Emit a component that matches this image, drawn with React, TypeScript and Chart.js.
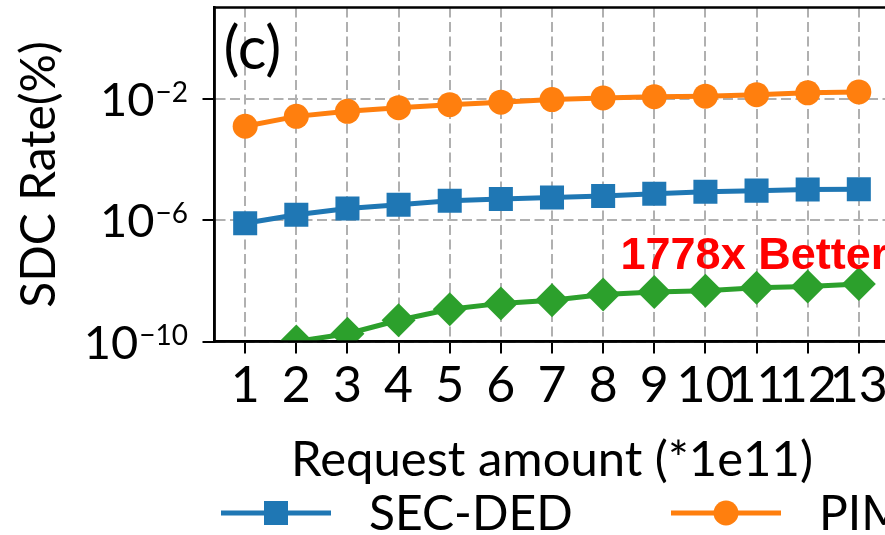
import { useEffect, useRef } from 'react';
import { Chart, registerables } from 'chart.js';

Chart.register(...registerables);

// ---- data ----
const requestAmounts = [1, 2, 3, 4, 5, 6, 7, 8, 9, 10, 11, 12, 13];
const secDedRate = [7.8e-7, 1.5e-6, 2.4e-6, 3.2e-6, 4.3e-6, 4.9e-6, 5.5e-6, 6.2e-6, 7.4e-6, 8.5e-6, 9.3e-6, 1.02e-5, 1.03e-5];
const pimRate = [1.23e-3, 2.6e-3, 3.8e-3, 5.0e-3, 6.3e-3, 7.6e-3, 9.3e-3, 1.05e-2, 1.15e-2, 1.2e-2, 1.35e-2, 1.55e-2, 1.66e-2];
const proposedRate = [3e-11, 1.0e-10, 1.8e-10, 5.0e-10, 1.15e-9, 1.8e-9, 2.3e-9, 3.5e-9, 4.3e-9, 4.7e-9, 5.9e-9, 6.5e-9, 7.8e-9];
const yTickValues = [1e-10, 1e-6, 1e-2];
const seriesLabels = ['SEC-DED', 'PIM', 'Proposed'];
const seriesColors = ['#1f77b4', '#ff7f0e', '#2ca02c'];
const seriesMarkers = ['rect', 'circle', 'rectRot'];
const seriesMarkerRadius = [17, 12.5, 17];
const annotationText = '1778x Better';
const annotationAt = { x: 8.34, y: 2.4e-8 };
const panelLabel = '(c)';
const xTitle = 'Request amount (*1e11)';
const yTitle = 'SDC Rate(%)';

const FONT = 'Lato, "Open Sans", sans-serif';

function drawMarker(ctx: CanvasRenderingContext2D, kind: string, x: number, y: number, r: number, color: string) {
  ctx.fillStyle = color;
  ctx.beginPath();
  if (kind === 'circle') {
    ctx.arc(x, y, r, 0, Math.PI * 2);
  } else if (kind === 'rect') {
    const s = r * Math.SQRT1_2;
    ctx.rect(x - s, y - s, 2 * s, 2 * s);
  } else {
    ctx.moveTo(x - r, y);
    ctx.lineTo(x, y - r);
    ctx.lineTo(x + r, y);
    ctx.lineTo(x, y + r);
    ctx.closePath();
  }
  ctx.fill();
}

const overlayPlugin = {
  id: 'overlay',
  afterDatasetsDraw(chart: any) {
    const { ctx, chartArea: a, scales } = chart;
    const xs = scales.x;
    const ys = scales.y;
    ctx.save();
    ctx.setLineDash([]);

    // frame (matplotlib spines)
    ctx.strokeStyle = '#000';
    ctx.lineWidth = 2.5;
    ctx.strokeRect(a.left, a.top, a.right - a.left, a.bottom - a.top);

    // y tick labels with superscript exponents
    ctx.fillStyle = '#000';
    ctx.textAlign = 'right';
    ctx.textBaseline = 'alphabetic';
    const rightX = a.left - 26.5;
    yTickValues.forEach((v) => {
      const py = ys.getPixelForValue(v);
      const e = Math.round(Math.log10(v));
      const sup = (e < 0 ? '\u2212' : '') + String(Math.abs(e));
      ctx.font = `28px ${FONT}`;
      const supW = ctx.measureText(sup).width;
      ctx.fillText(sup, rightX, py + 3);
      ctx.font = `47px ${FONT}`;
      ctx.fillText('10', rightX - supW - 1, py + 17);
    });

    // panel label
    ctx.textAlign = 'left';
    ctx.font = `60px ${FONT}`;
    ctx.fillText(panelLabel, a.left + 9, a.top + 61);

    // annotation
    ctx.font = 'bold 45px "Liberation Sans", Arial, sans-serif';
    ctx.fillStyle = '#ff0000';
    ctx.fillText(annotationText, xs.getPixelForValue(annotationAt.x), ys.getPixelForValue(annotationAt.y));

    // legend
    const legendY = 513;
    const legendStarts = [a.left + 6.5, a.left + 456.5, a.left + 906.5];
    seriesLabels.forEach((label, i) => {
      const x0 = legendStarts[i];
      ctx.strokeStyle = seriesColors[i];
      ctx.lineWidth = 5;
      ctx.beginPath();
      ctx.moveTo(x0, legendY);
      ctx.lineTo(x0 + 110, legendY);
      ctx.stroke();
      drawMarker(ctx, seriesMarkers[i], x0 + 55, legendY, seriesMarkerRadius[i], seriesColors[i]);
      ctx.fillStyle = '#000';
      ctx.font = `48px ${FONT}`;
      ctx.textBaseline = 'middle';
      ctx.fillText(label, x0 + 148, legendY + 2);
      ctx.textBaseline = 'alphabetic';
    });
    ctx.restore();
  },
};

export default function App() {
  const canvasRef = useRef<HTMLCanvasElement | null>(null);

  useEffect(() => {
    if (!canvasRef.current) return;
    const series = [secDedRate, pimRate, proposedRate];
    const gridOpts = { color: '#b0b0b0', lineWidth: 2, tickColor: '#000', tickWidth: 2, tickLength: 12 };
    const borderOpts = { display: true, color: '#000', width: 2.5, dash: [10, 4.5] };
    const chart = new Chart(canvasRef.current, {
      type: 'line',
      data: {
        datasets: series.map((vals, i) => ({
          label: seriesLabels[i],
          data: requestAmounts.map((x, j) => ({ x, y: vals[j] })),
          borderColor: seriesColors[i],
          backgroundColor: seriesColors[i],
          borderWidth: 5,
          pointStyle: seriesMarkers[i] as any,
          pointRadius: seriesMarkerRadius[i],
          pointBorderWidth: 0,
          pointBackgroundColor: seriesColors[i],
          tension: 0,
          clip: 0 as any,
        })),
      },
      options: {
        responsive: false,
        animation: false,
        layout: { autoPadding: false, padding: { top: 7.5, right: 15.5, bottom: 45.5, left: 0 } },
        plugins: { legend: { display: false }, tooltip: { enabled: false } },
        scales: {
          x: {
            type: 'linear',
            min: 0.4,
            max: 13.6,
            afterBuildTicks: (s: any) => {
              s.ticks = requestAmounts.map((v) => ({ value: v }));
            },
            afterFit: (s: any) => {
              s.height = 148;
            },
            ticks: {
              autoSkip: false,
              maxRotation: 0,
              minRotation: 0,
              padding: 2,
              color: '#000',
              font: { family: FONT, size: 50 },
              callback: (v: any) => String(v),
            },
            grid: gridOpts,
            border: borderOpts,
            title: { display: true, text: xTitle, color: '#000', font: { family: FONT, size: 49 }, padding: 0 },
          },
          y: {
            type: 'logarithmic',
            min: 1e-10,
            max: 10,
            afterBuildTicks: (s: any) => {
              s.ticks = yTickValues.map((v) => ({ value: v }));
            },
            afterFit: (s: any) => {
              s.width = 214.5;
            },
            ticks: { display: false },
            grid: gridOpts,
            border: borderOpts,
            title: { display: true, text: yTitle, color: '#000', font: { family: FONT, size: 48 }, padding: { top: 11, bottom: 0 } },
          },
        },
      } as any,
      plugins: [overlayPlugin],
    });
    return () => chart.destroy();
  }, []);

  return (
    <div style={{ position: 'absolute', left: 0, top: 0, width: 885, height: 535, overflow: 'hidden', background: '#fff' }}>
      <canvas ref={canvasRef} width={905} height={535} style={{ display: 'block', width: 905, height: 535 }} />
    </div>
  );
}
